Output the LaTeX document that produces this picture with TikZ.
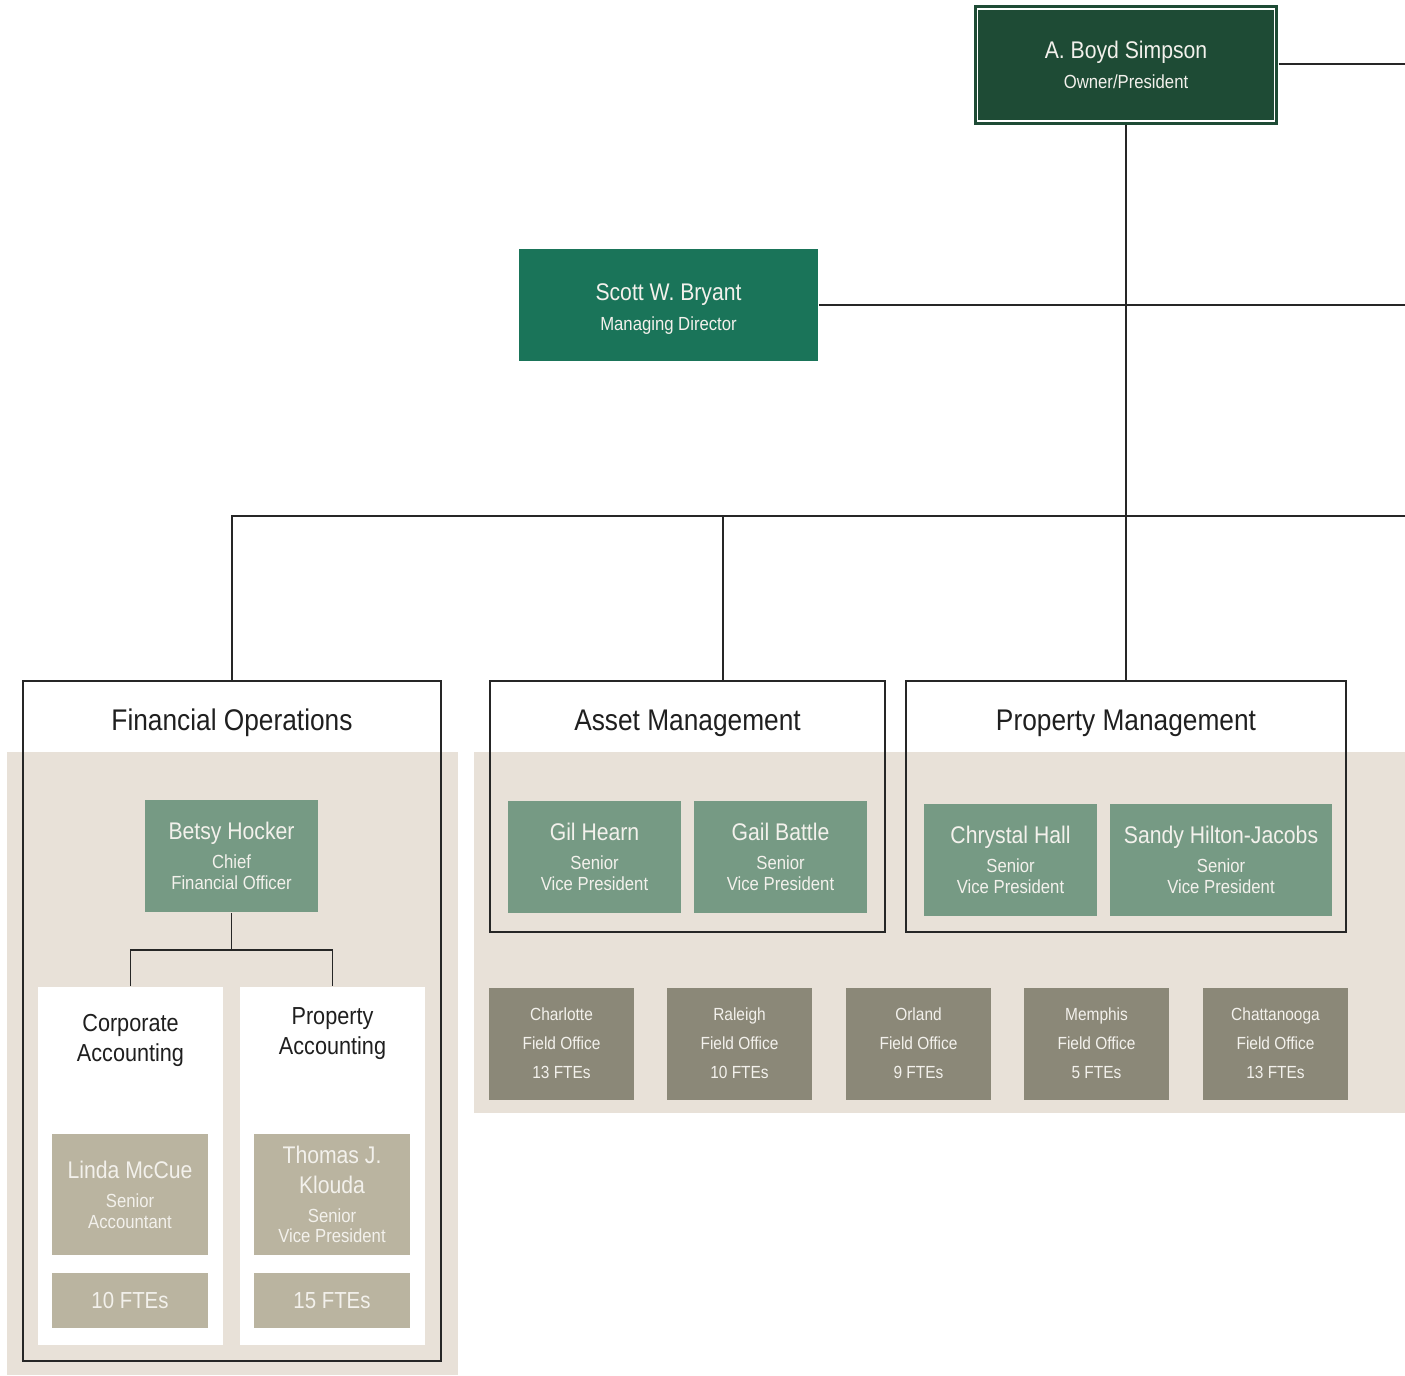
\documentclass[tikz,border=0pt]{standalone}
\usepackage{fontspec}
\setmainfont{Liberation Sans}[FakeStretch=0.88]
\usepackage{tikz}
\usetikzlibrary{positioning}
\definecolor{ownergreen}{RGB}{30,75,53}
\definecolor{mdgreen}{RGB}{26,116,89}
\definecolor{sage}{RGB}{118,154,132}
\definecolor{taupe}{RGB}{186,180,160}
\definecolor{fieldgray}{RGB}{139,136,120}
\definecolor{panelbeige}{RGB}{232,225,216}
\definecolor{lighttext}{RGB}{243,241,236}
\definecolor{darktext}{RGB}{31,31,31}
\definecolor{linegray}{RGB}{38,38,38}
\newcommand\pname{\fontsize{13.7}{17}\selectfont}
\newcommand\prole{\fontsize{10.8}{11.9}\selectfont}

\begin{document}
\begin{tikzpicture}[x=0.02cm,y=-0.02cm,line width=1.1pt,
  sz/.style 2 args={minimum width=#1*0.02cm,minimum height=#2*0.02cm},
  person/.style={inner sep=0pt,align=center,text=lighttext,font=\prole},
  sagebox/.style={person,fill=sage,sz={173}{112}},
  taupebox/.style={person,fill=taupe,sz={156}{121}},
  ftebox/.style={person,fill=taupe,sz={156}{55},font=\fontsize{13.2}{16}\selectfont},
  fieldbox/.style={person,fill=fieldgray,sz={145}{112},font=\fontsize{10}{16.5}\selectfont},
  deptframe/.style={draw=linegray,inner sep=0pt},
  depttitle/.style={text=darktext,font=\fontsize{17}{20}\selectfont},
  subtitle/.style={text=darktext,align=center,font=\fontsize{14}{16.8}\selectfont},
  conn/.style={draw=linegray,line width=1.1pt}]
\useasboundingbox (0,0) rectangle (1405,1375);

% beige panels
\fill[panelbeige] (7,752) rectangle (458,1375);
\fill[panelbeige] (474,752) rectangle (1405,1113);

% top of the chart
\node[person,fill=ownergreen,draw=white,line width=0.85pt,outer sep=2.27pt,
  preaction={draw=ownergreen,line width=4.5pt},sz={297}{112}] (own) at (1126,65)
  {\pname A. Boyd Simpson\\[5.5pt]Owner/President};
\node[person,fill=mdgreen,sz={299}{112}] (scott) at (668.5,305)
  {\rule{0pt}{14pt}\pname Scott W. Bryant\\[5.5pt]Managing Director};

% department frames
\node[deptframe,sz={418}{680}] (fo) at (232,1021) {};
\node[deptframe,sz={395}{251}] (am) at (687.5,806.5) {};
\node[deptframe,sz={440}{251}] (pm) at (1126,806.5) {};
\node[depttitle] (fotitle) at (232,723) {Financial Operations};
\node[depttitle] (amtitle) at (687.5,723) {Asset Management};
\node[depttitle] (pmtitle) at (1126,723) {Property Management};

% financial operations
\node[sagebox] (betsy) at (231.5,856) {\pname Betsy Hocker\\[4.5pt]Chief\\Financial Officer};
\node[fill=white,inner sep=0pt,sz={185}{358}] (corp) at (130.5,1166) {};
\node[fill=white,inner sep=0pt,sz={185}{358}] (prop) at (332.5,1166) {};
\node[subtitle] (corptitle) at (130.5,1040.5) {Corporate\\Accounting};
\node[subtitle] (proptitle) at (332.5,1033.5) {Property\\Accounting};
\node[taupebox] (linda) at (130,1194.5) {\pname Linda McCue\\[4.5pt]Senior\\Accountant};
\node[ftebox] (lindafte) at (130,1300.5) {10 FTEs};
\node[taupebox] (thomas) at (332,1194.5) {\pname Thomas J.\\[5.1pt]\pname Klouda\\[4.5pt]Senior\\Vice President};
\node[ftebox] (thomasfte) at (332,1300.5) {15 FTEs};

% asset and property management
\node[sagebox] (gil) at (594.5,856.5) {\pname Gil Hearn\\[4.5pt]Senior\\Vice President};
\node[sagebox] (gail) at (780.5,856.5) {\pname Gail Battle\\[4.5pt]Senior\\Vice President};
\node[sagebox] (chrystal) at (1010.5,859.5) {\pname Chrystal Hall\\[4.5pt]Senior\\Vice President};
\node[sagebox,sz={222}{112}] (sandy) at (1221,859.5) {\pname Sandy Hilton-Jacobs\\[4.5pt]Senior\\Vice President};

% field offices
\foreach \cx/\city/\fte in {561.5/Charlotte/13,739.5/Raleigh/10,918.5/Orland/9,
  1096.5/Memphis/5,1275.5/Chattanooga/13}{
  \node[fieldbox] (field\city) at (\cx,1043.5) {\city\\Field Office\\\fte{} FTEs};
}

% connectors
\coordinate (ownR) at (1405,64);
\coordinate (scottR) at (1405,305);
\coordinate (busR) at (1405,516);
\coordinate (amtap) at (723,516);
\coordinate (split) at (231.5,950);
\draw[conn] (own.east |- ownR) -- (ownR);
\draw[conn] (scott.east) -- (scottR);
\draw[conn] (own.south) -- (pm.north);
\draw[conn] (fo.north) |- (busR);
\draw[conn] (amtap) -- (amtap |- am.north);
\draw[conn] (betsy.south) -- (split);
\draw[conn] (corp.north) |- (split) -| (prop.north);
\end{tikzpicture}
\end{document}
